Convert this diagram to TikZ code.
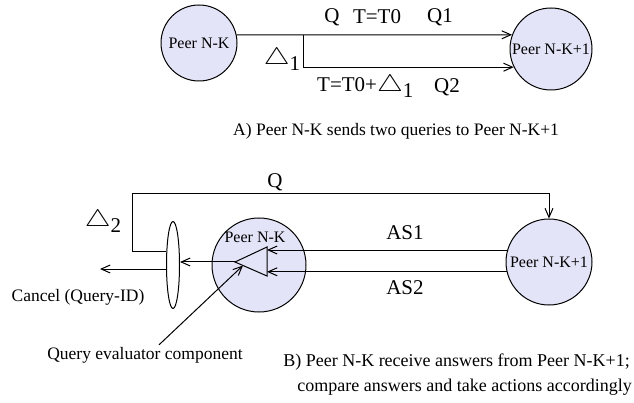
\documentclass[tikz,border=0pt]{standalone}
\usepackage{fontspec}
\setmainfont{Liberation Serif}
\usetikzlibrary{arrows.meta,shapes.geometric,calc}
\definecolor{peerfill}{RGB}{228,228,248}
\newcommand{\mytri}{\scalebox{1.4}[1.15]{$\bigtriangleup$}}
\newcommand{\mydelta}[1]{\mytri\raisebox{-0.28em}{#1}}
\tikzset{
  peer/.style={circle,draw,fill=peerfill,line width=1pt,inner sep=0pt,font=\fontsize{16}{18}\selectfont},
  arr/.style={line width=1pt,-{Straight Barb[length=9pt,width=8pt,line width=1pt]}},
  ln/.style={line width=1pt},
  biglbl/.style={font=\fontsize{21}{25}\selectfont,inner sep=0pt},
  smalllbl/.style={font=\fontsize{17.5}{21}\selectfont,inner sep=0pt},
}
\begin{document}
\begin{tikzpicture}[x=1pt,y=-1pt]
\useasboundingbox (0,0) rectangle (634,403);
% ---------- Part A ----------
\node[peer,minimum size=76pt] (pA1) at (199,43) {Peer N-K};
\node[peer,minimum size=82pt] (pA2) at (551,49) {Peer N-K+1};
\draw[arr] (pA1.12) -- (pA2.160);
\coordinate (b1) at (303,35);
\draw[arr] (b1) |- (pA2.206);
\node[biglbl] (lq) at (332,17) {Q};
\node[biglbl] (lt0) at (377,17) {T=T0};
\node[biglbl] (lq1) at (440,17) {Q1};
\node[biglbl] (ld1) at (282,59) {\mydelta{1}};
\node[biglbl,anchor=west] (lt1) at (317,86) {T=T0+\mydelta{1}};
\node[biglbl] (lq2) at (447,87) {Q2};
\node[smalllbl,anchor=west] (capA) at (233,131) {A) Peer N-K sends two queries to Peer N-K+1};
% ---------- Part B ----------
\node[peer,minimum size=94pt] (pB1) at (259,265) {};
\node[font=\fontsize{16}{18}\selectfont,inner sep=0pt] (tB1) at (255,237) {Peer N-K};
\node[peer,minimum size=86pt] (pB2) at (549,262) {Peer N-K+1};
\node[ellipse,draw,line width=1pt,minimum width=13pt,minimum height=87pt,inner sep=0pt] (el) at (173,265) {};
% comparator triangle
\coordinate (tA) at (235,262);
\coordinate (tT) at (267,247);
\coordinate (tB) at (267,276);
\draw[ln,line join=miter] (tA) -- (tT) -- (tB) -- cycle;
% answers
\draw[arr] (pB2.164) -- (pB2.164 -| tT);
\draw[arr] (pB2.193) -- (pB2.193 -| tT);
% to ellipse
\draw[arr] (tA) -- (tA -| el.east);
% cancel
\coordinate (cx) at (100,269);
\draw[arr] (el.west |- cx) -- (cx);
% Q loop
\coordinate (q1) at (132,194);
\draw[arr] ([yshift=13pt]el.west) -| (q1) -| (pB2.north);
% labels
\node[biglbl] (lqb) at (275,182) {Q};
\node[biglbl] (ld2) at (103,221) {\mydelta{2}};
\node[biglbl] (las1) at (405,233) {AS1};
\node[biglbl] (las2) at (405,288) {AS2};
\node[smalllbl] (lc) at (78,297) {Cancel (Query-ID)};
\node[smalllbl] (qe) at (145,355) {Query evaluator component};
\draw[arr] ([xshift=14pt,yshift=2pt]qe.north) -- ($(tA)!0.25!(tB)$);
\node[smalllbl,font=\fontsize{18}{21}\selectfont,anchor=east] (capB1) at (630,362) {B) Peer N-K receive answers from Peer N-K+1;};
\node[smalllbl,font=\fontsize{18}{21}\selectfont,anchor=east] (capB2) at (632,387) {compare answers and take actions accordingly};
\end{tikzpicture}
\end{document}
